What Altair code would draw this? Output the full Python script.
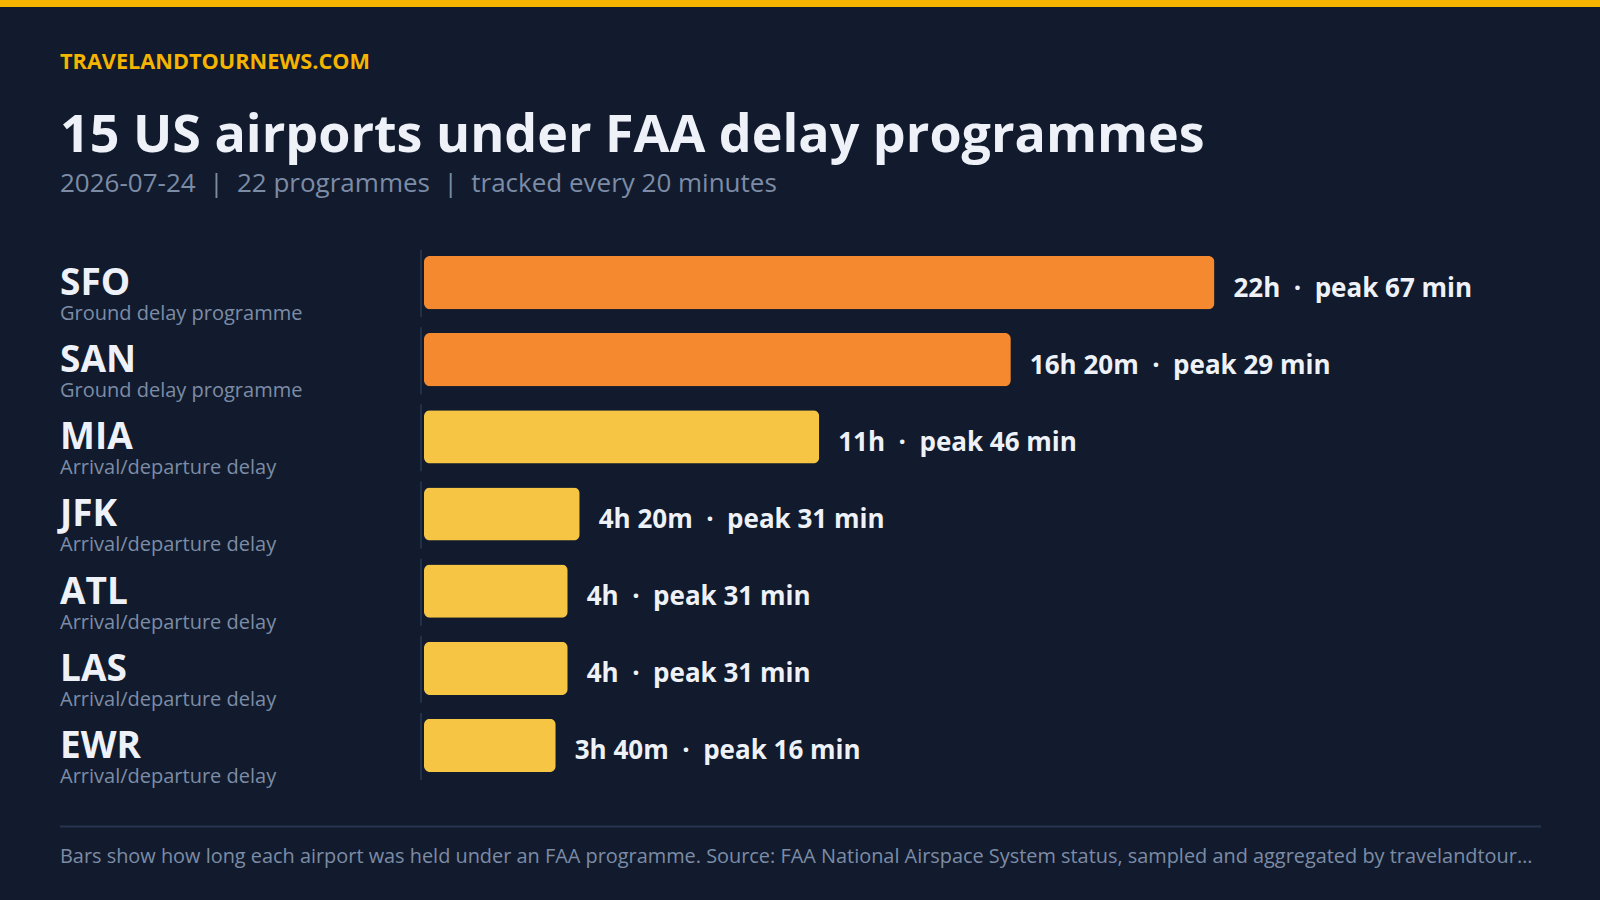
import altair as alt
import pandas as pd

# ---- data ----
brand = "TRAVELANDTOURNEWS.COM"
title = "15 US airports under FAA delay programmes"
subtitle_parts = ["2026-07-24", "22 programmes", "tracked every 20 minutes"]
footer = ("Bars show how long each airport was held under an FAA programme. Source: FAA National "
          "Airspace System status, sampled and aggregated by travelandtournews.com every 20 minutes.")

codes = ["SFO", "SAN", "MIA", "JFK", "ATL", "LAS", "EWR"]
types = ["Ground delay programme", "Ground delay programme", "Arrival/departure delay",
         "Arrival/departure delay", "Arrival/departure delay", "Arrival/departure delay",
         "Arrival/departure delay"]
minutes = [1320, 980, 660, 260, 240, 240, 220]
peaks = [67, 29, 46, 31, 31, 31, 16]

type_domain = ["Ground delay programme", "Arrival/departure delay"]
type_colors = ["#f5892f", "#f5c543"]

SEP = "\u00a0\u00a0·\u00a0\u00a0"
SUB_SEP = "\u00a0\u00a0|\u00a0\u00a0"


def fmt(m):
    h, r = divmod(m, 60)
    return f"{h}h" if r == 0 else f"{h}h {r}m"


df = pd.DataFrame({
    "code": codes,
    "type": types,
    "minutes": minutes,
    "label": [f"{fmt(m)}{SEP}peak {p} min" for m, p in zip(minutes, peaks)],
})

# ---- layout ----
W, H = 1100, 540
PAD_L, PAD_T = 424, 244
BG = "#111b2d"
WHITE = "#eef2f8"
MUTED = "#7d8ca6"
FONT = "Open Sans"

xscale = alt.Scale(domain=[0, 1837], nice=False, zero=True)
yscale = alt.Scale(domain=codes, paddingInner=0.31, paddingOuter=0.155)

X = alt.X("minutes:Q", scale=xscale, axis=None)
Y = alt.Y("code:N", scale=yscale, axis=None)

base = alt.Chart(df)

bars = base.mark_bar(cornerRadius=6).encode(
    x=X, y=Y,
    color=alt.Color("type:N", scale=alt.Scale(domain=type_domain, range=type_colors), legend=None),
)

ticks = base.mark_tick(thickness=2, size=67, color="#2a3a57", yOffset=1).encode(
    x=alt.value(-3), y=Y,
)

code_text = base.mark_text(align="left", baseline="alphabetic", dy=12.4, font=FONT,
                           fontSize=37, fontWeight="bold", color=WHITE).encode(
    x=alt.value(60 - PAD_L), y=Y, text="code:N")

type_text = base.mark_text(align="left", baseline="alphabetic", dy=37.4, font=FONT,
                           fontSize=20, color=MUTED).encode(
    x=alt.value(60 - PAD_L), y=Y, text="type:N")

value_text = base.mark_text(align="left", baseline="alphabetic", dx=19, dy=14, font=FONT,
                            fontSize=26, fontWeight="bold", color=WHITE).encode(
    x=X, y=Y, text="label:N")


def header(txt, y, size, color, weight="normal"):
    return alt.Chart(pd.DataFrame({"t": [txt]})).mark_text(
        align="left", baseline="alphabetic", font=FONT, fontSize=size,
        fontWeight=weight, color=color).encode(
        x=alt.value(60 - PAD_L), y=alt.value(y - PAD_T), text="t:N")


brand_t = header(brand, 69.3, 21.7, "#f5b400", "bold")
title_t = header(title, 152, 52, WHITE, "bold")
sub_t = header(SUB_SEP.join(subtitle_parts), 191.7, 26, MUTED)

foot_t = alt.Chart(pd.DataFrame({"t": [footer]})).mark_text(
    align="left", baseline="middle", font=FONT, fontSize=19.9, color=MUTED, limit=1481).encode(
    x=alt.value(60 - PAD_L), y=alt.value(857 - PAD_T), text="t:N")

foot_rule = alt.Chart(pd.DataFrame({"a": [0]})).mark_rule(color="#26344e", strokeWidth=2).encode(
    x=alt.value(60 - PAD_L), x2=alt.value(1541 - PAD_L), y=alt.value(826.5 - PAD_T))

top_band = alt.Chart(pd.DataFrame({"a": [0]})).mark_rect(color="#f5b400").encode(
    x=alt.value(-PAD_L), x2=alt.value(1600 - PAD_L), y=alt.value(-PAD_T), y2=alt.value(7 - PAD_T))

chart = alt.layer(
    top_band, ticks, bars, code_text, type_text, value_text,
    brand_t, title_t, sub_t, foot_rule, foot_t,
).properties(
    width=W, height=H,
    autosize=alt.AutoSizeParams(type="none"),
    padding={"left": PAD_L, "top": PAD_T, "right": 1600 - PAD_L - W, "bottom": 900 - PAD_T - H},
    background=BG,
).configure_view(strokeWidth=0)

chart.save("out.html", embed_options={"renderer": "svg", "actions": False})
